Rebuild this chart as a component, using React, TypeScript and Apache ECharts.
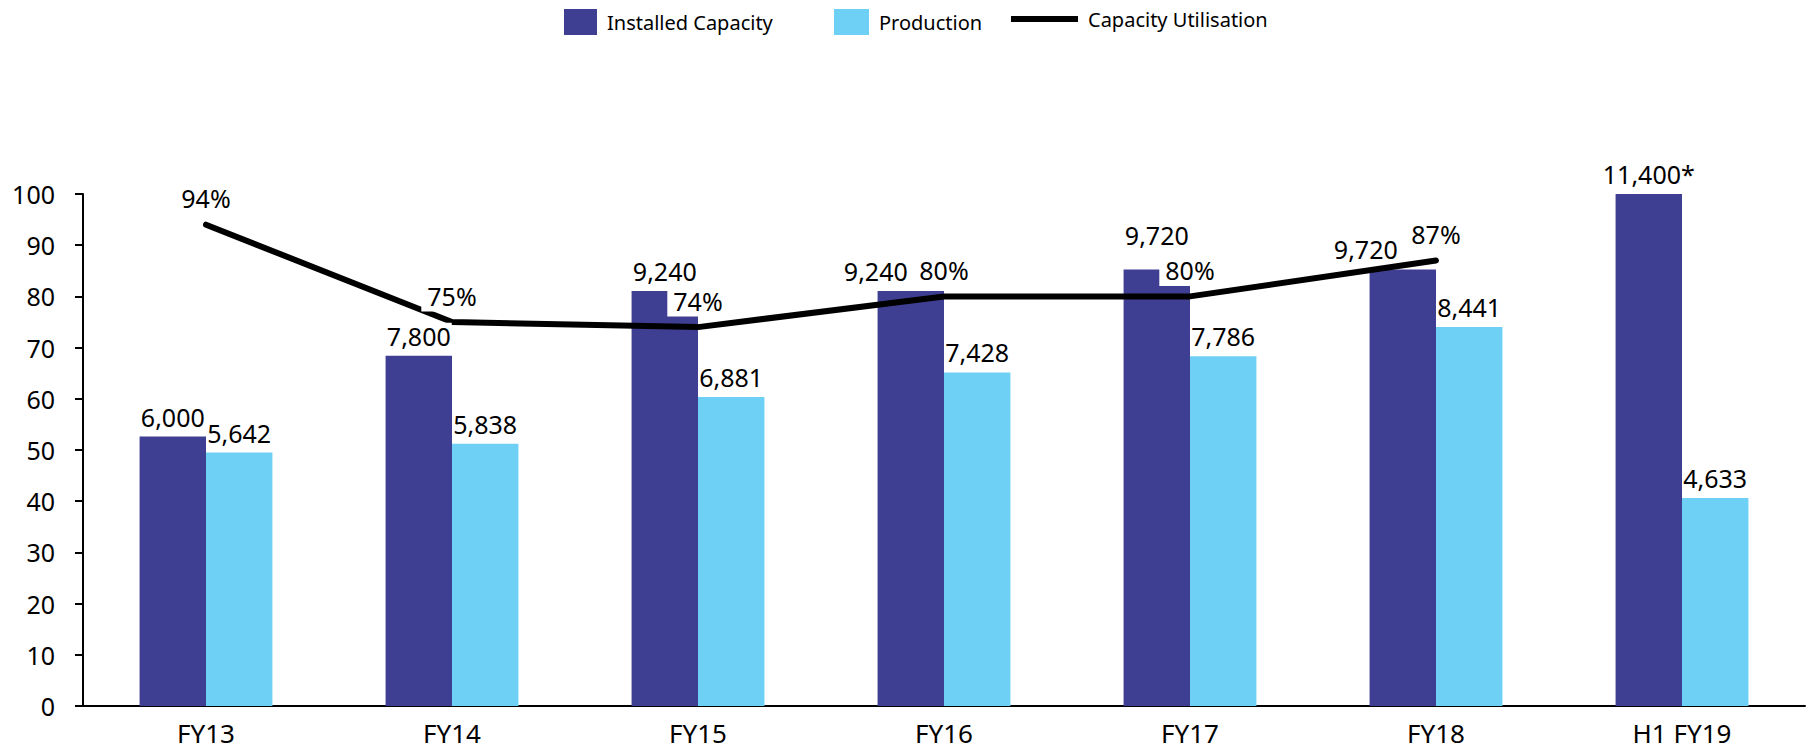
import React, { useEffect, useRef } from 'react';
import * as echarts from 'echarts';

const categories = ['FY13', 'FY14', 'FY15', 'FY16', 'FY17', 'FY18', 'H1 FY19'];
const installedCapacity = [6000, 7800, 9240, 9240, 9720, 9720, 11400];
const production = [5642, 5838, 6881, 7428, 7786, 8441, 4633];
const capacityUtilisation: (number | null)[] = [94, 75, 74, 80, 80, 87, null];
const capacityNotes = ['', '', '', '', '', '', '*'];
const leftAxisMin = 0;
const leftAxisMax = 100;
const leftAxisInterval = 10;
const capacityScaleMax = 11400;

const FONT = '"Noto Sans", "DejaVu Sans", sans-serif';
const DARK = '#3E3F92';
const LIGHT = '#6FD0F6';

const fmt = (v: number) => v.toLocaleString('en-US');

export default function App() {
  const ref = useRef<HTMLDivElement>(null);
  useEffect(() => {
    if (!ref.current) return;
    const chart = echarts.init(ref.current, undefined, { renderer: 'svg' });

    const capLabelTweaks: Record<number, any> = {
      3: { offset: [-35, 0] },
      4: { offset: [0, -14] },
      5: { offset: [-37, 0] },
    };

    const barLabel = {
      show: true,
      position: 'top',
      distance: 7,
      fontSize: 25,
      fontFamily: FONT,
      color: '#000',
      backgroundColor: '#fff',
      padding: [0, 1],
      lineHeight: 26,
    };

    const barCommon = {
      type: 'bar',
      barGap: '0%',
      barCategoryGap: '46%',
      yAxisIndex: 1,
    };

    const legendText = { fontSize: 20, color: '#000', fontFamily: FONT, padding: [0, 0, 0, 5] };

    const option: any = {
      animation: false,
      backgroundColor: '#fff',
      textStyle: { fontFamily: FONT },
      legend: [
        {
          data: [{ name: 'Installed Capacity', icon: 'rect' }],
          left: 559, top: 4, itemWidth: 33, itemHeight: 26, selectedMode: false, textStyle: legendText,
        },
        {
          data: [{ name: 'Production', icon: 'rect' }],
          left: 829, top: 4, itemWidth: 35, itemHeight: 26, selectedMode: false, textStyle: legendText,
        },
        {
          data: [{ name: 'Capacity Utilisation', icon: 'rect' }],
          left: 1006,
          top: 4,
          itemWidth: 67,
          itemHeight: 6,
          selectedMode: false,
          itemStyle: { color: '#000' },
          textStyle: legendText,
        },
      ],
      grid: { left: 83, right: 6, top: 194, bottom: 44, containLabel: false },
      xAxis: [
        {
          type: 'category',
          data: categories,
          axisLine: { show: true, lineStyle: { color: '#000', width: 2 } },
          axisTick: { show: false },
          axisLabel: { fontSize: 26, color: '#000', margin: 14, fontFamily: FONT },
        },
        { type: 'category', data: categories, show: false },
      ],
      yAxis: [
        {
          type: 'value',
          min: leftAxisMin,
          max: leftAxisMax,
          interval: leftAxisInterval,
          splitLine: { show: false },
          axisLine: { show: true, lineStyle: { color: '#000', width: 2 } },
          axisTick: { show: true, length: 8, lineStyle: { color: '#000', width: 2 } },
          axisLabel: { fontSize: 25, color: '#000', margin: 28, fontFamily: FONT },
        },
        { type: 'value', min: 0, max: capacityScaleMax, show: false, splitLine: { show: false } },
      ],
      series: [
        { ...barCommon, name: 'Installed Capacity', xAxisIndex: 0, data: installedCapacity, itemStyle: { color: DARK }, z: 2 },
        { ...barCommon, name: 'Production', xAxisIndex: 0, data: production, itemStyle: { color: LIGHT }, z: 2 },
        {
          name: 'Capacity Utilisation',
          type: 'line',
          xAxisIndex: 0,
          yAxisIndex: 0,
          data: capacityUtilisation,
          z: 3,
          symbol: 'circle',
          symbolSize: 1,
          showSymbol: true,
          itemStyle: { color: '#000' },
          lineStyle: { color: '#000', width: 6, cap: 'round', join: 'round' },
          label: {
            show: true,
            position: 'top',
            distance: 10,
            formatter: '{c}%',
            fontSize: 25,
            fontFamily: FONT,
            color: '#000',
            backgroundColor: '#fff',
            padding: [3, 6],
            lineHeight: 26,
          },
        },
        {
          ...barCommon,
          name: 'capLabels',
          xAxisIndex: 1,
          silent: true,
          z: 4,
          itemStyle: { color: 'rgba(0,0,0,0)' },
          data: installedCapacity.map((v, i) => ({ value: v, label: capLabelTweaks[i] || {} })),
          label: { ...barLabel, formatter: (p: any) => fmt(p.value) + capacityNotes[p.dataIndex] },
        },
        {
          ...barCommon,
          name: 'prodLabels',
          xAxisIndex: 1,
          silent: true,
          z: 4,
          itemStyle: { color: 'rgba(0,0,0,0)' },
          data: production,
          label: { ...barLabel, formatter: (p: any) => fmt(p.value) },
        },
      ],
    };
    chart.setOption(option);
    return () => chart.dispose();
  }, []);

  return (
    <div
      ref={ref}
      style={{ position: 'fixed', left: 0, top: 0, width: '1811px', height: '750px', background: '#fff' }}
    />
  );
}
